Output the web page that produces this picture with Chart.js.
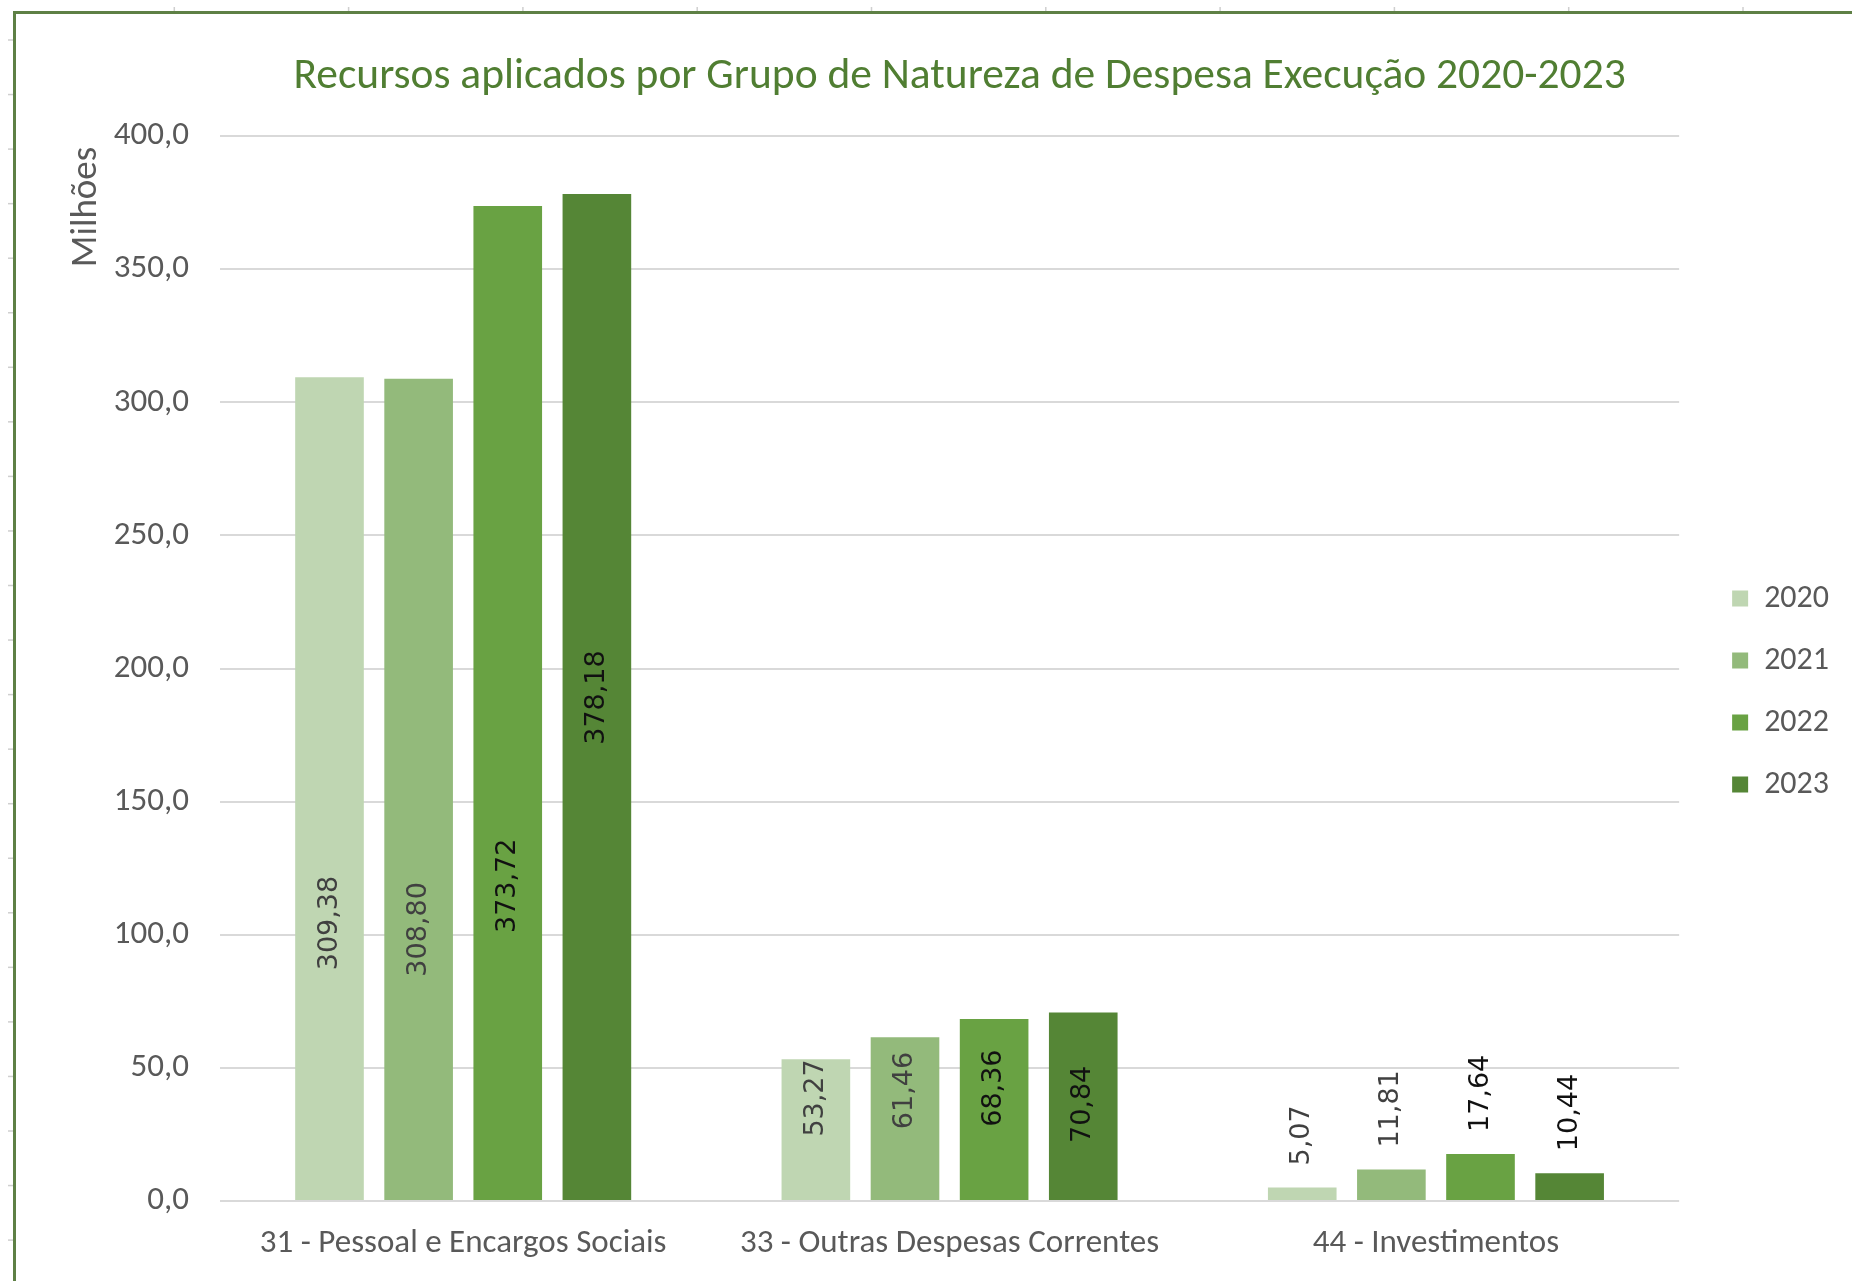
<!DOCTYPE html>
<html lang="pt-BR">
<head>
<meta charset="utf-8">
<title>Recursos aplicados por Grupo de Natureza de Despesa</title>
<script src="https://cdn.jsdelivr.net/npm/chart.js@4.4.0/dist/chart.umd.min.js"></script>
<style>
  html, body { margin: 0; padding: 0; background: #fff; }
  canvas { display: block; }
</style>
</head>
<body>
<canvas id="despesaChart" width="1852" height="1281"></canvas>
<script>
// dados (milhões de R$)
const categories = ['31 - Pessoal e Encargos Sociais', '33 - Outras Despesas Correntes', '44 - Investimentos'];
const years = ['2020', '2021', '2022', '2023'];
const values2020 = [309.38, 53.27, 5.07];
const values2021 = [308.80, 61.46, 11.81];
const values2022 = [373.72, 68.36, 17.64];
const values2023 = [378.18, 70.84, 10.44];
const yTickValues = [0, 50, 100, 150, 200, 250, 300, 350, 400];

const chartTitle = 'Recursos aplicados por Grupo de Natureza de Despesa Execução 2020-2023';
const yTitle = 'Milhões';

const barColors = ['#bfd6b2', '#93ba7b', '#69a243', '#558636'];
const labelColors = ['#404040', '#404040', '#111111', '#111111'];
const FONT = 'Calibri, Carlito, Lato, sans-serif';

// where the labels inside the bars sit (axis units), null = above the bar
const insideLabelAt = [
    [104.4, 38.7, null],
    [102.0, 41.5, null],
    [118.4, 42.4, null],
    [189.1, 36.3, null]
];

const fmt = (v, d) => v.toFixed(d).replace('.', ',');

const extras = {
    id: 'extras',
    beforeDraw(chart) {
        const ctx = chart.ctx;
        ctx.save();
        ctx.fillStyle = '#fff';
        ctx.fillRect(0, 0, chart.width, chart.height);
        // faint ruler marks outside the frame
        ctx.strokeStyle = '#cfcfcf';
        ctx.lineWidth = 1.5;
        for (let x = 174.3; x < chart.width; x += 174.3) {
            ctx.beginPath(); ctx.moveTo(x, 7); ctx.lineTo(x, 11); ctx.stroke();
        }
        for (let y = 40; y < chart.height; y += 54.55) {
            ctx.beginPath(); ctx.moveTo(8, y); ctx.lineTo(13, y); ctx.stroke();
        }
        // green frame (left + top)
        ctx.strokeStyle = '#5e8045';
        ctx.lineWidth = 3;
        ctx.beginPath();
        ctx.moveTo(14.5, chart.height);
        ctx.lineTo(14.5, 12.5);
        ctx.lineTo(chart.width, 12.5);
        ctx.stroke();
        ctx.restore();
    },
    afterDatasetsDraw(chart) {
        const ctx = chart.ctx;
        const yScale = chart.scales.y;
        chart.data.datasets.forEach((ds, di) => {
            const meta = chart.getDatasetMeta(di);
            meta.data.forEach((bar, i) => {
                const at = insideLabelAt[di][i];
                ctx.save();
                ctx.font = '27px "DejaVu Sans"';
                ctx.fillStyle = labelColors[di];
                ctx.textBaseline = 'middle';
                if (at !== null) {
                    ctx.translate(bar.x, yScale.getPixelForValue(at));
                    ctx.textAlign = 'center';
                } else {
                    ctx.translate(bar.x, bar.y - 22);
                    ctx.textAlign = 'left';
                }
                ctx.rotate(-Math.PI / 2);
                ctx.fillText(fmt(ds.data[i], 2), 0, 0);
                ctx.restore();
            });
        });
    },
    afterDraw(chart) {
        const ctx = chart.ctx;
        const area = chart.chartArea;
        ctx.save();
        // title
        ctx.font = '43.5px ' + FONT;
        ctx.fillStyle = '#507e32';
        ctx.textAlign = 'center';
        ctx.textBaseline = 'middle';
        ctx.fillText(chartTitle, (area.left + area.right) / 2 + 10, 77);
        // y axis title, near the top of the axis
        ctx.font = '37px ' + FONT;
        ctx.fillStyle = '#595959';
        ctx.translate(87, area.top + 71);
        ctx.rotate(-Math.PI / 2);
        ctx.fillText(yTitle, 0, 0);
        ctx.restore();
    }
};

const ctx = document.getElementById('despesaChart').getContext('2d');
const despesaChart = new Chart(ctx, {
    type: 'bar',
    data: {
        labels: categories,
        datasets: [
            { label: years[0], data: values2020, backgroundColor: barColors[0] },
            { label: years[1], data: values2021, backgroundColor: barColors[1] },
            { label: years[2], data: values2022, backgroundColor: barColors[2] },
            { label: years[3], data: values2023, backgroundColor: barColors[3] }
        ]
    },
    options: {
        responsive: false,
        animation: false,
        devicePixelRatio: 1,
        categoryPercentage: 0.733,
        barPercentage: 0.77,
        layout: { padding: { top: 102, left: 20, right: 13, bottom: 0 } },
        plugins: {
            // empty spacer over the plot only, the visible title is drawn by the plugin
            title: {
                display: true,
                fullSize: false,
                text: '',
                font: { size: 1, lineHeight: 1 },
                padding: { top: 16, bottom: 17 }
            },
            legend: {
                position: 'right',
                labels: {
                    boxWidth: 16,
                    boxHeight: 16,
                    padding: 30,
                    color: '#595959',
                    font: { family: FONT, size: 32 }
                }
            },
            tooltip: { enabled: false }
        },
        scales: {
            x: {
                grid: { display: false },
                border: { display: false },
                ticks: {
                    color: '#595959',
                    padding: 15,
                    font: { family: FONT, size: 33 }
                },
                afterFit: (scale) => { scale.height = 80; }
            },
            y: {
                min: 0,
                max: 400,
                afterBuildTicks: (scale) => { scale.ticks = yTickValues.map(v => ({ value: v })); },
                grid: { color: '#d9d9d9', lineWidth: 2, drawTicks: false },
                border: { display: false },
                ticks: {
                    color: '#595959',
                    padding: 31,
                    font: { family: FONT, size: 33 },
                    callback: (v) => fmt(v, 1)
                },
                afterFit: (scale) => { scale.width = 200; }
            },
            gap: {
                position: 'right',
                display: true,
                grid: { display: false },
                border: { display: false },
                ticks: { display: false },
                afterFit: (scale) => { scale.width = 23; }
            }
        }
    },
    plugins: [extras]
});
</script>
</body>
</html>
